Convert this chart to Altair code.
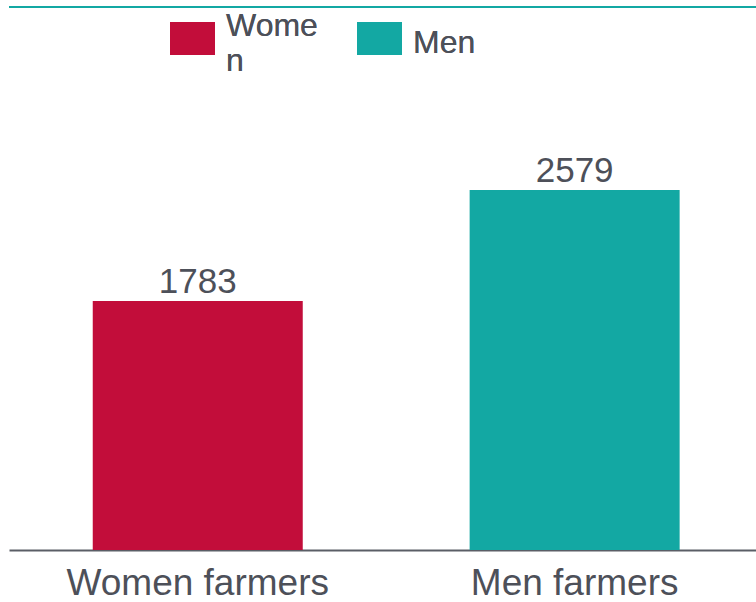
import altair as alt
import pandas as pd

# Average yield figures by farmer group
groups = ["Women farmers", "Men farmers"]
sexes = ["Women", "Men"]
values = [1783, 2579]
colors = ["#C20D3A", "#13A8A3"]

df = pd.DataFrame({"group": groups, "sex": sexes, "value": values})

text_color = "#4D5059"
font = "Liberation Sans"
plot_w, plot_h = 747, 543

x_enc = alt.X(
    "group:N",
    sort=groups,
    title=None,
    scale=alt.Scale(paddingInner=0.444, paddingOuter=0.213, align=0.523),
    axis=alt.Axis(
        labelAngle=0,
        labelFontSize=37,
        labelColor=text_color,
        labelFont=font,
        labelPadding=15,
        labelLimit=0,
        ticks=False,
        grid=False,
        domainColor="#5A5E66",
        domainWidth=2,
    ),
)
y_scale = alt.Scale(domain=[0, 3890], nice=False)

bars = (
    alt.Chart(df)
    .mark_bar(size=210)
    .encode(
        x=x_enc,
        y=alt.Y("value:Q", title=None, scale=y_scale, axis=None),
        color=alt.Color(
            "sex:N",
            sort=sexes,
            scale=alt.Scale(domain=sexes, range=colors),
            legend=None,
        ),
    )
)

labels = (
    alt.Chart(df)
    .mark_text(
        baseline="alphabetic",
        dy=-8,
        fontSize=35,
        font=font,
        color=text_color,
    )
    .encode(
        x=alt.X("group:N", sort=groups),
        y=alt.Y("value:Q", scale=y_scale, axis=None),
        text="value:Q",
    )
)

# Thin teal rule across the top of the panel
top_rule = alt.Chart(df).mark_rule(color="#13A8A3", strokeWidth=2).encode(
    x=alt.value(0),
    x2=alt.value(plot_w),
    y=alt.value(0),
)

# Legend: colour swatch and label per series, drawn along the top
legend_x = [161, 348]
legend_text = [["Wome", "n"], "Men"]
legend_base = [29, 46]
legend_layers = []
for i in range(len(sexes)):
    legend_layers.append(
        alt.Chart(df).mark_rect(color=colors[i]).encode(
            x=alt.value(legend_x[i]),
            x2=alt.value(legend_x[i] + 45),
            y=alt.value(15),
            y2=alt.value(48),
        )
    )
    legend_layers.append(
        alt.Chart(df)
        .mark_text(
            align="left",
            baseline="alphabetic",
            fontSize=32,
            lineHeight=35,
            font=font,
            color=text_color,
        )
        .encode(
            x=alt.value(legend_x[i] + 56),
            y=alt.value(legend_base[i]),
            text=alt.value(legend_text[i]),
        )
    )

chart = (
    alt.layer(top_rule, bars, labels, *legend_layers)
    .properties(
        width=plot_w,
        height=plot_h,
        autosize=alt.AutoSizeParams(type="none"),
        padding={"left": 9, "top": 7, "right": 0, "bottom": 52},
    )
    .configure_view(stroke=None, fill=None)
    .configure_axisY(domain=False, grid=False, ticks=False, labels=False)
    .configure(
        background="white",
        style={"cell": {"stroke": "transparent", "strokeWidth": 0}},
    )
)

chart.save("out.html", embed_options={"renderer": "svg", "actions": False})
